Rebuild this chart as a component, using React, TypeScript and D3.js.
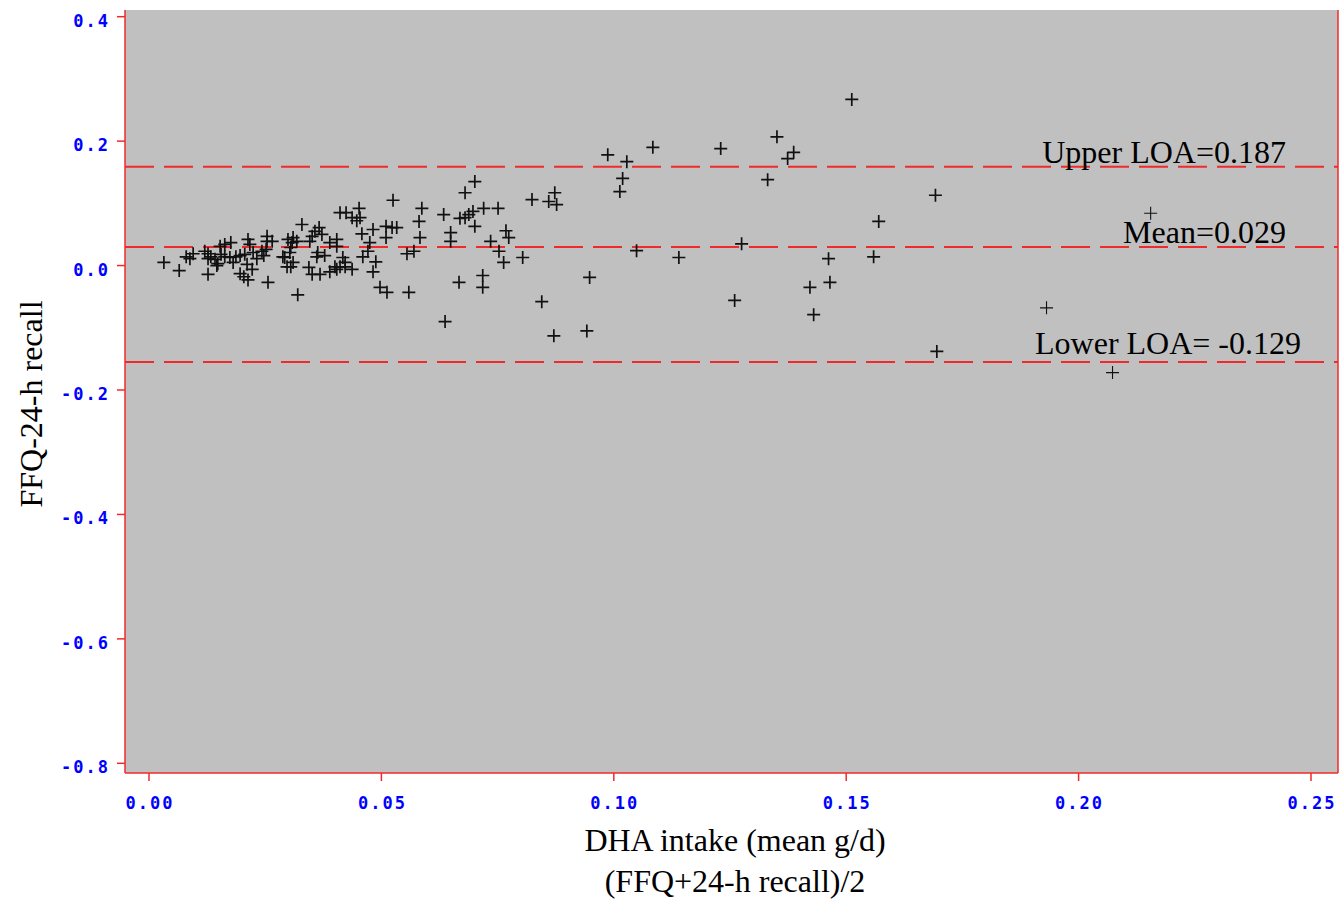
import * as d3 from "d3";

// Bland-Altman: FFQ vs 24-h recall, DHA intake
const meanX = [
  0.0032, 0.0065, 0.008, 0.0088, 0.0095, 0.012, 0.0127, 0.0133, 0.0127, 0.0127,
  0.0142, 0.0148, 0.0146, 0.0155, 0.0153, 0.0163, 0.0176, 0.0163, 0.0174, 0.0187,
  0.0196, 0.0181, 0.0196, 0.0204, 0.0213, 0.0213, 0.0217, 0.0206, 0.0224, 0.0232,
  0.0211, 0.0222, 0.0243, 0.0247, 0.0254, 0.0254, 0.0265, 0.0252, 0.0256, 0.0308,
  0.0299, 0.031, 0.0318, 0.0305, 0.0303, 0.0288, 0.0292, 0.031, 0.0305, 0.0297,
  0.0329, 0.032, 0.0366, 0.0357, 0.0351, 0.0372, 0.0346, 0.0363, 0.0378, 0.0361,
  0.0344, 0.0351, 0.0368, 0.0389, 0.0404, 0.0404, 0.0417, 0.0422, 0.0389, 0.04,
  0.0411, 0.0404, 0.0437, 0.0422, 0.0411, 0.0424, 0.0452, 0.0437, 0.0454, 0.0447,
  0.0458, 0.0482, 0.051, 0.0523, 0.0533, 0.051, 0.0475, 0.0471, 0.046, 0.0488,
  0.0482, 0.0497, 0.0512, 0.0525, 0.0587, 0.0581, 0.0583, 0.0555, 0.057, 0.0559,
  0.0634, 0.0649, 0.0649, 0.0667, 0.0637, 0.068, 0.0701, 0.0697, 0.0688, 0.068,
  0.0669, 0.0701, 0.072, 0.0751, 0.0718, 0.0718, 0.0735, 0.0753, 0.0763, 0.0768,
  0.0774, 0.0804, 0.0824, 0.086, 0.0873, 0.0877, 0.0845, 0.0871, 0.0942, 0.0948,
  0.0987, 0.1028, 0.1084, 0.1019, 0.1013, 0.1049, 0.114, 0.123, 0.1275, 0.126,
  0.1351, 0.1387, 0.1374, 0.1331, 0.1422, 0.143, 0.1462, 0.1465, 0.1512, 0.1559,
  0.157, 0.1692, 0.1695, 0.1931, 0.2073, 0.2155,
];

const diffY = [
  0.005, -0.008, 0.014, 0.011, 0.019, 0.023, 0.019, 0.014, 0.011, -0.014,
  0.01, 0.003, 0.0, 0.018, 0.031, 0.034, 0.037, 0.014, 0.013, 0.014,
  0.016, 0.005, -0.013, -0.018, -0.023, 0.042, 0.034, 0.018, 0.021, 0.011,
  0.002, -0.006, 0.023, 0.016, 0.047, 0.039, 0.039, 0.026, -0.027, 0.037,
  0.042, 0.045, 0.039, 0.029, 0.021, 0.014, 0.013, 0.005, -0.002, -0.002,
  0.066, -0.047, 0.061, 0.055, 0.047, 0.05, 0.039, 0.021, 0.016, 0.014,
  -0.003, -0.014, -0.014, 0.037, 0.042, 0.031, 0.013, 0.005, -0.01, -0.002,
  -0.002, -0.006, -0.006, -0.002, 0.085, 0.085, 0.092, 0.077, 0.077, 0.072,
  0.051, 0.058, 0.063, 0.061, 0.061, 0.045, 0.037, 0.023, 0.014, 0.006,
  -0.01, -0.035, -0.043, 0.105, 0.092, 0.071, 0.045, 0.019, 0.023, -0.043,
  0.082, 0.053, 0.039, -0.027, -0.09, 0.117, 0.135, 0.087, 0.082, 0.077,
  0.076, 0.063, 0.092, 0.092, -0.016, -0.035, 0.039, 0.023, 0.005, 0.056,
  0.045, 0.013, 0.106, 0.103, 0.117, 0.098, -0.058, -0.113, -0.105, -0.019,
  0.178, 0.167, 0.19, 0.14, 0.119, 0.024, 0.013, 0.188, 0.035, -0.056,
  0.207, 0.182, 0.172, 0.138, -0.035, -0.079, 0.011, -0.027, 0.267, 0.014,
  0.071, 0.113, -0.138, -0.068, -0.172, 0.084,
];

const xTicks = [0, 0.05, 0.1, 0.15, 0.2, 0.25];
const yTicks = [0.4, 0.2, 0, -0.2, -0.4, -0.6, -0.8];

const refLines = [
  { name: "upper", value: 0.159, label: "Upper LOA=0.187" },
  { name: "mean", value: 0.03, label: "Mean=0.029" },
  { name: "lower", value: -0.155, label: "Lower LOA= -0.129" },
];

const W = 1342;
const H = 901;
const plot = { left: 125, right: 1338, top: 10, bottom: 773 };
const RED = "#f02a2a";
const BLUE = "#0000ff";
const tickFont = "'DejaVu Sans Mono', monospace";
const serif = "'Liberation Serif', 'Times New Roman', serif";

export default function App() {
  const x = d3.scaleLinear().domain([0, 0.25]).range([149, 1311]);
  const y = d3.scaleLinear().domain([-0.8, 0.4]).range([763.3, 16.7]);

  const pts = meanX.map((m, i) => ({ m, d: diffY[i] }));

  const labelPos: Record<string, { right: number; dy: number }> = {
    upper: { right: 1286, dy: -4 },
    mean: { right: 1286, dy: -4 },
    lower: { right: 1301, dy: -8 },
  };

  return (
    <svg
      width={W}
      height={H}
      viewBox={`0 0 ${W} ${H}`}
      style={{ position: "fixed", left: 0, top: 0, background: "#fff" }}
    >
      {/* plot background */}
      <rect
        x={plot.left}
        y={plot.top}
        width={plot.right - plot.left}
        height={plot.bottom - plot.top}
        fill="#c0c0c0"
      />

      {/* reference lines */}
      {refLines.map((r) => (
        <line
          key={r.name}
          x1={plot.left}
          x2={plot.right}
          y1={y(r.value)}
          y2={y(r.value)}
          stroke={RED}
          strokeWidth={2}
          strokeDasharray="29 10"
        />
      ))}

      {/* points */}
      {pts.map((p, i) => {
        const cx = x(p.m);
        const cy = y(p.d);
        const s = 6.5;
        const thin = p.m > 0.19;
        return (
          <path
            key={i}
            d={`M${cx - s},${cy}H${cx + s}M${cx},${cy - s}V${cy + s}`}
            stroke="#111"
            strokeWidth={thin ? 1.1 : 1.7}
            fill="none"
          />
        );
      })}

      {/* reference labels */}
      {refLines.map((r) => (
        <text
          key={r.name + "-t"}
          x={labelPos[r.name].right}
          y={y(r.value) + labelPos[r.name].dy}
          textAnchor="end"
          fontFamily={serif}
          fontSize={32}
          fill="#000"
        >
          {r.label}
        </text>
      ))}

      {/* frame */}
      <line x1={plot.left} x2={plot.left} y1={plot.top} y2={plot.bottom} stroke={RED} strokeWidth={1.5} />
      <line x1={plot.right} x2={plot.right} y1={plot.top} y2={plot.bottom} stroke={RED} strokeWidth={1.5} />
      <line x1={plot.left} x2={plot.right} y1={plot.bottom} y2={plot.bottom} stroke={RED} strokeWidth={1.5} />

      {/* y axis ticks */}
      {yTicks.map((t) => (
        <g key={"y" + t}>
          <line x1={plot.left - 8} x2={plot.left} y1={y(t)} y2={y(t)} stroke={RED} strokeWidth={1.5} />
          <text
            x={108}
            y={y(t) + 4}
            dx={2}
            textAnchor="end"
            dominantBaseline="central"
            fontFamily={tickFont}
            fontWeight="bold"
            fontSize={17}
            letterSpacing={2}
            fill={BLUE}
          >
            {t.toFixed(1)}
          </text>
        </g>
      ))}

      {/* x axis ticks */}
      {xTicks.map((t) => (
        <g key={"x" + t}>
          <line x1={x(t)} x2={x(t)} y1={plot.bottom} y2={plot.bottom + 8} stroke={RED} strokeWidth={1.5} />
          <text
            x={x(t)}
            y={803}
            dx={1}
            textAnchor="middle"
            dominantBaseline="central"
            fontFamily={tickFont}
            fontWeight="bold"
            fontSize={17}
            letterSpacing={2}
            fill={BLUE}
          >
            {t.toFixed(2)}
          </text>
        </g>
      ))}

      {/* axis titles */}
      <text
        transform="translate(42,404) rotate(-90)"
        textAnchor="middle"
        fontFamily={serif}
        fontSize={32}
        fill="#000"
      >
        FFQ-24-h recall
      </text>
      <text x={735} y={851} textAnchor="middle" fontFamily={serif} fontSize={32} fill="#000">
        DHA intake (mean g/d)
      </text>
      <text x={735} y={892} textAnchor="middle" fontFamily={serif} fontSize={32} fill="#000">
        (FFQ+24-h recall)/2
      </text>
    </svg>
  );
}
